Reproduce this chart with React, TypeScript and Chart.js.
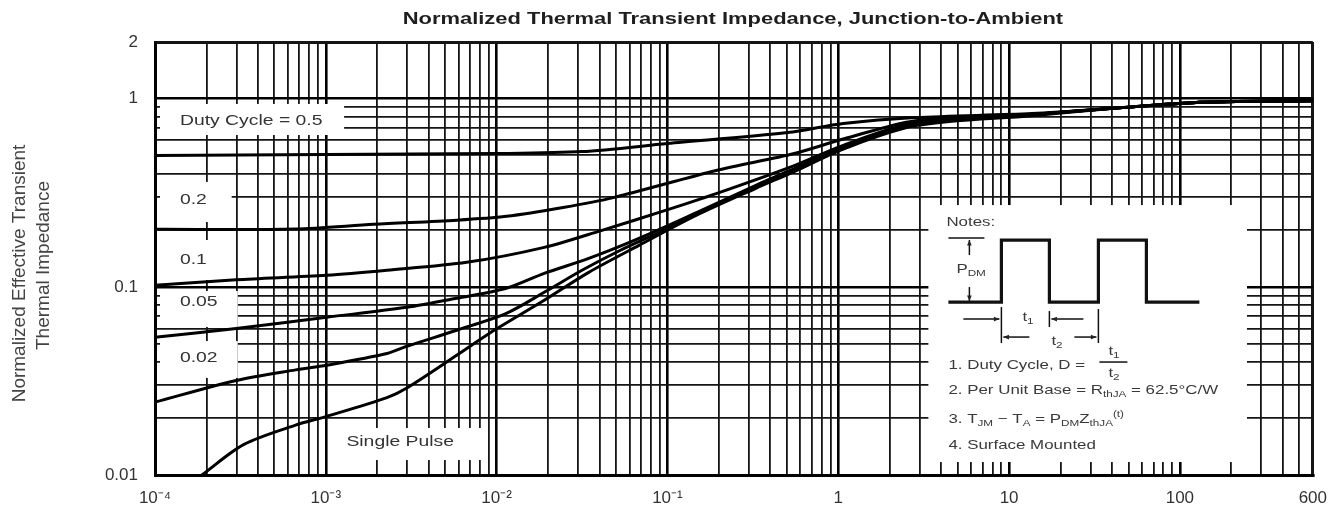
import React, { useEffect, useRef } from 'react';
import { Chart, registerables } from 'chart.js';

Chart.register(...registerables);

const FONT = '"Liberation Sans", Arial, Helvetica, sans-serif';

const chartTitle = 'Normalized Thermal Transient Impedance, Junction-to-Ambient';
const yTitleLines = ['Normalized Effective Transient', 'Thermal Impedance'];

// axis ranges and labels
const xMin = 1e-4;
const xMax = 600;
const yMin = 0.01;
const yMax = 2;
const xLabelValues = [1e-4, 1e-3, 1e-2, 1e-1, 1, 10, 100, 600];
const xLabelTexts = ['10⁻⁴', '10⁻³', '10⁻²', '10⁻¹', '1', '10', '100', '600'];
const yLabelValues = [0.01, 0.1, 1, 2];
const yLabelTexts = ['0.01', '0.1', '1', '2'];
const gridMultipliers = [1, 2, 3, 4, 5, 6, 7, 8, 9];

// curves: square-wave pulse duration (s) vs normalized impedance
const d05Time = [1e-4, 1e-3, 1e-2, 3.16e-2, 0.1, 0.505, 1.07, 2.84, 13.6, 46.2, 119, 600];
const d05Z = [0.498, 0.505, 0.511, 0.523, 0.577, 0.66, 0.737, 0.793, 0.833, 0.896, 0.952, 0.976];

const d02Time = [1e-4, 6.65e-4, 1.91e-3, 5.84e-3, 1.14e-2, 2.45e-2, 4.82e-2, 0.193, 0.553, 1.07, 2.84, 13.6, 46.2, 119, 600];
const d02Z = [0.202, 0.203, 0.215, 0.226, 0.237, 0.264, 0.298, 0.415, 0.511, 0.61, 0.764, 0.823, 0.896, 0.952, 0.976];

const d01Time = [1e-4, 2.99e-4, 1.01e-3, 2.28e-3, 6.68e-3, 1.9e-2, 4.09e-2, 9.62e-2, 0.193, 0.553, 1.07, 2.84, 13.6, 46.2, 119, 600];
const d01Z = [0.1018, 0.109, 0.1151, 0.1224, 0.1349, 0.162, 0.199, 0.254, 0.313, 0.441, 0.565, 0.746, 0.823, 0.896, 0.952, 0.976];

const d005Time = [1e-4, 2.99e-4, 1.01e-3, 2.98e-3, 5.84e-3, 1.14e-2, 1.9e-2, 3.46e-2, 6.81e-2, 0.148, 0.327, 0.553, 1.07, 2.84, 13.6, 46.2, 119, 600];
const d005Z = [0.054, 0.06, 0.0689, 0.0778, 0.0869, 0.0982, 0.1179, 0.1416, 0.181, 0.248, 0.345, 0.425, 0.55, 0.737, 0.823, 0.896, 0.952, 0.976];

const d002Time = [1e-4, 2.99e-4, 6.65e-4, 1.01e-3, 2.28e-3, 2.98e-3, 5.84e-3, 1.14e-2, 1.9e-2, 3.16e-2, 5.27e-2, 0.1, 0.186, 0.327, 0.553, 1.07, 2.84, 13.6, 46.2, 119, 600];
const d002Z = [0.0244, 0.0318, 0.0362, 0.0383, 0.0442, 0.0483, 0.0588, 0.0723, 0.0935, 0.1224, 0.156, 0.204, 0.27, 0.337, 0.415, 0.545, 0.728, 0.823, 0.896, 0.952, 0.976];

const spTime = [1.88e-4, 3.3e-4, 6.65e-4, 1.01e-3, 2.28e-3, 2.98e-3, 5.84e-3, 9.1e-3, 1.9e-2, 3.46e-2, 6.81e-2, 0.148, 0.327, 0.553, 1.07, 2.84, 13.6, 46.2, 119, 600];
const spZ = [0.01, 0.0145, 0.0184, 0.0205, 0.0258, 0.029, 0.0433, 0.0567, 0.0848, 0.1194, 0.166, 0.24, 0.333, 0.41, 0.54, 0.719, 0.812, 0.896, 0.952, 0.976];

const seriesList = [
  { name: 'Duty Cycle = 0.5', time: d05Time, z: d05Z },
  { name: '0.2', time: d02Time, z: d02Z },
  { name: '0.1', time: d01Time, z: d01Z },
  { name: '0.05', time: d005Time, z: d005Z },
  { name: '0.02', time: d002Time, z: d002Z },
  { name: 'Single Pulse', time: spTime, z: spZ },
];

// white label panels (data coordinates)
const labelBoxes = [
  { t0: 1.07e-4, t1: 1.28e-3, z0: 0.641, z1: 0.937 },
  { t0: 1.07e-4, t1: 2.81e-4, z0: 0.221, z1: 0.361 },
  { t0: 1.07e-4, t1: 2.81e-4, z0: 0.1087, z1: 0.1773 },
  { t0: 1.07e-4, t1: 3.05e-4, z0: 0.0612, z1: 0.095 },
  { t0: 1.07e-4, t1: 3.05e-4, z0: 0.0328, z1: 0.0515 },
  { t0: 1.12e-3, t1: 8.61e-3, z0: 0.01201, z1: 0.01777 },
];
const notesBox = { t0: 3.37, t1: 247, z0: 0.01172, z1: 0.272 };

const curveLabels = [
  { text: 'Duty Cycle = 0.5', t: 1.4e-4, z: 0.76 },
  { text: '0.2', t: 1.4e-4, z: 0.289 },
  { text: '0.1', t: 1.4e-4, z: 0.1388 },
  { text: '0.05', t: 1.4e-4, z: 0.0831 },
  { text: '0.02', t: 1.4e-4, z: 0.0418 },
  { text: 'Single Pulse', t: 1.32e-3, z: 0.01497 },
];

const near = (a: number, b: number) => Math.abs(Math.log10(a) - Math.log10(b)) < 1e-6;
const isDecade = (v: number) => Math.abs(Math.log10(v) - Math.round(Math.log10(v))) < 1e-6;

function logGrid(min: number, max: number) {
  const vals: number[] = [];
  for (let e = Math.floor(Math.log10(min)); e <= Math.ceil(Math.log10(max)); e++) {
    for (const m of gridMultipliers) {
      const v = m * Math.pow(10, e);
      if (v >= min * (1 - 1e-9) && v <= max * (1 + 1e-9)) vals.push(v);
    }
  }
  if (!near(vals[vals.length - 1], max)) vals.push(max);
  return vals;
}

function labelFor(v: number, values: number[], texts: string[]) {
  const i = values.findIndex((lv) => near(lv, v));
  return i >= 0 ? texts[i] : '';
}

function sText(ctx: CanvasRenderingContext2D, text: string, x: number, y: number, font: string, sx: number, align = 'left') {
  ctx.save();
  ctx.font = font;
  ctx.textBaseline = 'middle';
  ctx.textAlign = 'left';
  const w = ctx.measureText(text).width * sx;
  const x0 = align === 'center' ? x - w / 2 : align === 'right' ? x - w : x;
  ctx.translate(x0, y);
  ctx.scale(sx, 1);
  ctx.fillText(text, 0, 0);
  ctx.restore();
  return w;
}

type Part = [string, 'n' | 'sub' | 'sup'];
function richText(ctx: CanvasRenderingContext2D, parts: Part[], x: number, y: number, size: number, sx: number) {
  let cx = x;
  for (const [txt, kind] of parts) {
    if (kind === 'n') cx += sText(ctx, txt, cx, y, `${size}px ${FONT}`, sx);
    else if (kind === 'sub') cx += sText(ctx, txt, cx, y + 4, `${Math.round(size * 0.7)}px ${FONT}`, sx);
    else cx += sText(ctx, txt, cx, y - 5, `${Math.round(size * 0.7)}px ${FONT}`, sx);
  }
  return cx - x;
}

function arrow(ctx: CanvasRenderingContext2D, x1: number, y1: number, x2: number, y2: number) {
  ctx.beginPath();
  ctx.moveTo(x1, y1);
  ctx.lineTo(x2, y2);
  ctx.stroke();
  const a = Math.atan2(y2 - y1, x2 - x1);
  const L = 6;
  ctx.beginPath();
  ctx.moveTo(x2, y2);
  ctx.lineTo(x2 - L * Math.cos(a - 0.4), y2 - L * Math.sin(a - 0.4));
  ctx.lineTo(x2 - L * Math.cos(a + 0.4), y2 - L * Math.sin(a + 0.4));
  ctx.closePath();
  ctx.fill();
}

function line(ctx: CanvasRenderingContext2D, pts: number[][]) {
  ctx.beginPath();
  pts.forEach(([px, py], i) => (i ? ctx.lineTo(px, py) : ctx.moveTo(px, py)));
  ctx.stroke();
}

function drawNotes(ctx: CanvasRenderingContext2D, bx: number, by: number) {
  const SX = 1.3;
  ctx.save();
  ctx.fillStyle = '#3a3a3a';
  ctx.strokeStyle = '#111';
  sText(ctx, 'Notes:', bx + 18, by + 17, `13px ${FONT}`, SX);

  // waveform
  ctx.lineWidth = 3.2;
  ctx.lineJoin = 'miter';
  line(ctx, [[20, 97], [73, 97], [73, 35], [121, 35], [121, 97], [170, 97], [170, 35], [218, 35], [218, 97], [271, 97]].map(([dx, dy]) => [bx + dx, by + dy]));

  ctx.lineWidth = 1.5;
  ctx.fillStyle = '#222';
  line(ctx, [[bx + 20, by + 33], [bx + 56, by + 33]]);
  arrow(ctx, bx + 41, by + 50, bx + 41, by + 35);
  arrow(ctx, bx + 41, by + 82, bx + 41, by + 96);
  ctx.fillStyle = '#3a3a3a';
  richText(ctx, [['P', 'n'], ['DM', 'sub']], bx + 28, by + 64, 13, SX);

  // t1 / t2 dimensions
  ctx.fillStyle = '#222';
  line(ctx, [[bx + 73, by + 102], [bx + 73, by + 138]]);
  line(ctx, [[bx + 121, by + 106], [bx + 121, by + 122]]);
  line(ctx, [[bx + 170, by + 104], [bx + 170, by + 138]]);
  arrow(ctx, bx + 35, by + 114, bx + 71, by + 114);
  arrow(ctx, bx + 155, by + 114, bx + 123, by + 114);
  arrow(ctx, bx + 101, by + 132, bx + 75, by + 132);
  arrow(ctx, bx + 146, by + 132, bx + 168, by + 132);
  ctx.fillStyle = '#3a3a3a';
  richText(ctx, [['t', 'n'], ['1', 'sub']], bx + 94, by + 112, 13, SX);
  richText(ctx, [['t', 'n'], ['2', 'sub']], bx + 123, by + 136, 13, SX);

  // notes text
  sText(ctx, '1. Duty Cycle, D = ', bx + 20, by + 160, `13px ${FONT}`, SX);
  ctx.lineWidth = 1.5;
  line(ctx, [[bx + 171, by + 157], [bx + 199, by + 157]]);
  richText(ctx, [['t', 'n'], ['1', 'sub']], bx + 180, by + 146, 13, SX);
  richText(ctx, [['t', 'n'], ['2', 'sub']], bx + 180, by + 168, 13, SX);
  richText(ctx, [['2. Per Unit Base = R', 'n'], ['thJA', 'sub'], [' = 62.5°C/W', 'n']], bx + 20, by + 185, 13, SX);
  richText(ctx, [['3. T', 'n'], ['JM', 'sub'], [' − T', 'n'], ['A', 'sub'], [' = P', 'n'], ['DM', 'sub'], ['Z', 'n'], ['thJA', 'sub'], ['(t)', 'sup']], bx + 20, by + 214, 13, SX);
  sText(ctx, '4. Surface Mounted', bx + 20, by + 240, `13px ${FONT}`, SX);
  ctx.restore();
}

const decorPlugin = {
  id: 'decor',
  beforeDatasetsDraw(chart: any) {
    const { ctx, scales } = chart;
    const x = scales.x, y = scales.y;
    ctx.save();
    ctx.fillStyle = '#ffffff';
    for (const b of [...labelBoxes, notesBox]) {
      const l = x.getPixelForValue(b.t0), r = x.getPixelForValue(b.t1);
      const t = y.getPixelForValue(b.z1), bt = y.getPixelForValue(b.z0);
      ctx.fillRect(l, t, r - l, bt - t);
    }
    ctx.restore();
  },
  afterDatasetsDraw(chart: any) {
    const { ctx, scales } = chart;
    const x = scales.x, y = scales.y;
    ctx.save();
    ctx.fillStyle = '#333';
    for (const lb of curveLabels) {
      sText(ctx, lb.text, x.getPixelForValue(lb.t), y.getPixelForValue(lb.z), `15px ${FONT}`, 1.29);
    }
    drawNotes(ctx, x.getPixelForValue(notesBox.t0), y.getPixelForValue(notesBox.z1));
    ctx.restore();
  },
  afterDraw(chart: any) {
    const { ctx, chartArea } = chart;
    ctx.save();
    ctx.fillStyle = '#1e1e1e';
    sText(ctx, chartTitle, (chartArea.left + chartArea.right) / 2 - 1, chartArea.top - 23, `bold 17px ${FONT}`, 1.29, 'center');
    ctx.fillStyle = '#444';
    ctx.font = `19px ${FONT}`;
    ctx.textAlign = 'center';
    ctx.textBaseline = 'middle';
    const cy = (chartArea.top + chartArea.bottom) / 2 + 15;
    yTitleLines.forEach((txt, i) => {
      ctx.save();
      ctx.translate(chartArea.left - 135 + i * 24, cy - i * 8);
      ctx.rotate(-Math.PI / 2);
      ctx.fillText(txt, 0, 0);
      ctx.restore();
    });
    ctx.restore();
  },
};

function gridWidth(max: number) {
  return (c: any) => {
    const v = c.tick && c.tick.value;
    if (v == null) return 1.8;
    if (near(v, max)) return 3;
    return isDecade(v) ? 2.6 : 1.8;
  };
}
function gridColor(c: any) {
  const v = c.tick && c.tick.value;
  return v != null && isDecade(v) ? '#000' : '#151515';
}

export default function App() {
  const ref = useRef<HTMLCanvasElement>(null);
  useEffect(() => {
    if (!ref.current) return;
    const xGrid = logGrid(xMin, xMax);
    const yGrid = logGrid(yMin, yMax);
    const chart = new Chart(ref.current, {
      type: 'line',
      data: {
        datasets: seriesList.map((s) => ({
          label: s.name,
          data: s.time.map((t, i) => ({ x: t, y: s.z[i] })),
          borderColor: '#000',
          borderWidth: 3,
          pointRadius: 0,
          fill: false,
          tension: 0.3,
        })),
      },
      options: {
        animation: false,
        responsive: false,
        devicePixelRatio: 1,
        layout: { padding: { top: 42, right: 22, left: 0, bottom: 0 } },
        plugins: { legend: { display: false }, tooltip: { enabled: false }, title: { display: false } },
        scales: {
          x: {
            type: 'logarithmic',
            min: xMin,
            max: xMax,
            afterBuildTicks: (s: any) => { s.ticks = xGrid.map((v) => ({ value: v })); },
            afterFit: (s: any) => { s.height = 38; },
            grid: { color: gridColor, lineWidth: gridWidth(xMax), drawTicks: false },
            border: { display: true, color: '#000', width: 3 },
            ticks: {
              autoSkip: false,
              maxRotation: 0,
              minRotation: 0,
              padding: 13,
              color: '#333',
              font: { family: FONT, size: 17 },
              callback: (v: any) => labelFor(Number(v), xLabelValues, xLabelTexts),
            },
          },
          y: {
            type: 'logarithmic',
            min: yMin,
            max: yMax,
            afterBuildTicks: (s: any) => { s.ticks = yGrid.map((v) => ({ value: v })); },
            afterFit: (s: any) => { s.width = 155; },
            grid: { color: gridColor, lineWidth: gridWidth(yMax), drawTicks: false },
            border: { display: true, color: '#000', width: 3 },
            ticks: {
              autoSkip: false,
              padding: 17,
              color: '#333',
              font: { family: FONT, size: 17 },
              callback: (v: any) => labelFor(Number(v), yLabelValues, yLabelTexts),
            },
          },
        },
      },
      plugins: [decorPlugin],
    } as any);
    return () => chart.destroy();
  }, []);
  return (
    <div style={{ position: 'absolute', left: 0, top: 0, width: 1340, height: 513, background: '#fff' }}>
      <canvas ref={ref} width={1340} height={513} style={{ display: 'block', width: 1340, height: 513 }} />
    </div>
  );
}
